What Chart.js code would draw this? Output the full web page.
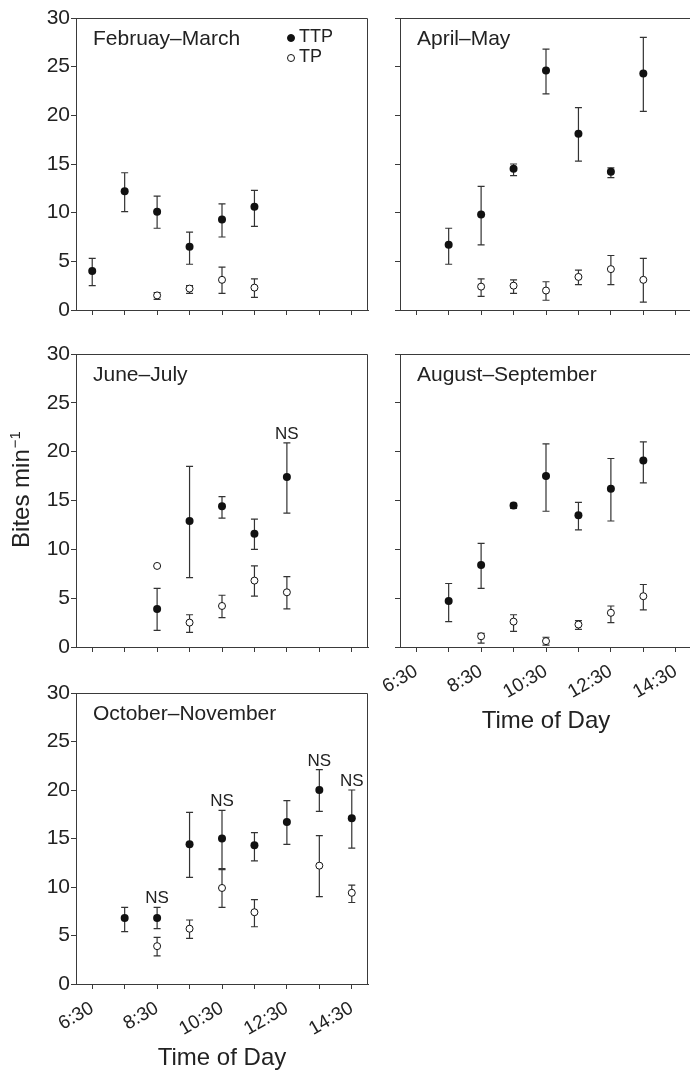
<!DOCTYPE html>
<html>
<head>
<meta charset="utf-8">
<script src="https://cdn.jsdelivr.net/npm/chart.js@4.4.0/dist/chart.umd.min.js"></script>
<style>
  html, body { margin: 0; padding: 0; background: #fff; }
  body { width: 690px; height: 1071px; position: relative; overflow: hidden; }
  canvas { position: absolute; }
</style>
</head>
<body>
<canvas id="febMar"></canvas>
<canvas id="aprMay"></canvas>
<canvas id="junJul"></canvas>
<canvas id="augSep"></canvas>
<canvas id="octNov"></canvas>
<script>
// time slots (x ticks) and which ones carry a label
const slots = ['6:30', '7:30', '8:30', '9:30', '10:30', '11:30', '12:30', '13:30', '14:30'];
const labelledSlots = ['6:30', '8:30', '10:30', '12:30', '14:30'];

// Februay-March
const febTTP   = [4.0, 12.2, 10.1, 6.5, 9.3, 10.6, null, null, null];
const febTTPLo = [2.5, 10.1, 8.4, 4.7, 7.5, 8.6, null, null, null];
const febTTPHi = [5.3, 14.1, 11.7, 8.0, 10.9, 12.3, null, null, null];
const febTP    = [null, null, 1.5, 2.2, 3.1, 2.3, null, null, null];
const febTPLo  = [null, null, 1.1, 1.7, 1.7, 1.3, null, null, null];
const febTPHi  = [null, null, 1.8, 2.5, 4.4, 3.2, null, null, null];

// April-May
const aprTTP   = [null, 6.7, 9.8, 14.5, 24.6, 18.1, 14.2, 24.3, null];
const aprTTPLo = [null, 4.7, 6.7, 13.8, 22.2, 15.3, 13.6, 20.4, null];
const aprTTPHi = [null, 8.4, 12.7, 15.0, 26.8, 20.8, 14.6, 28.0, null];
const aprTP    = [null, null, 2.4, 2.5, 2.0, 3.4, 4.2, 3.1, null];
const aprTPLo  = [null, null, 1.4, 1.7, 1.0, 2.6, 2.6, 0.8, null];
const aprTPHi  = [null, null, 3.2, 3.1, 2.9, 4.1, 5.6, 5.3, null];

// June-July
const junTTP   = [null, null, 3.9, 12.9, 14.4, 11.6, 17.4, null, null];
const junTTPLo = [null, null, 1.7, 7.1, 13.2, 10.0, 13.7, null, null];
const junTTPHi = [null, null, 6.0, 18.5, 15.4, 13.1, 20.9, null, null];
const junTP    = [null, null, 8.3, 2.5, 4.2, 6.8, 5.6, null, null];
const junTPLo  = [null, null, null, 1.5, 3.0, 5.2, 3.9, null, null];
const junTPHi  = [null, null, null, 3.3, 5.3, 8.3, 7.2, null, null];
const junNS    = ['12:30'];

// August-September
const augTTP   = [null, 4.7, 8.4, 14.5, 17.5, 13.5, 16.2, 19.1, null];
const augTTPLo = [null, 2.6, 6.0, 14.2, 13.9, 12.0, 12.9, 16.8, null];
const augTTPHi = [null, 6.5, 10.6, 14.7, 20.8, 14.8, 19.3, 21.0, null];
const augTP    = [null, null, 1.1, 2.6, 0.6, 2.3, 3.5, 5.2, null];
const augTPLo  = [null, null, 0.4, 1.6, 0.2, 1.8, 2.5, 3.8, null];
const augTPHi  = [null, null, 1.4, 3.3, 1.0, 2.7, 4.2, 6.4, null];

// October-November
const octTTP   = [null, 6.8, 6.8, 14.4, 15.0, 14.3, 16.7, 20.0, 17.1];
const octTTPLo = [null, 5.4, 5.7, 11.0, 11.9, 12.7, 14.4, 17.8, 14.0];
const octTTPHi = [null, 7.9, 7.9, 17.7, 17.9, 15.6, 18.9, 22.1, 20.0];
const octTP    = [null, null, 3.9, 5.7, 9.9, 7.4, null, 12.2, 9.4];
const octTPLo  = [null, null, 2.9, 4.7, 7.9, 5.9, null, 9.0, 8.4];
const octTPHi  = [null, null, 4.8, 6.6, 11.8, 8.7, null, 15.3, 10.2];
const octNS    = ['8:30', '10:30', '13:30', '14:30'];

const FONT = "'Liberation Sans', Arial, Helvetica, sans-serif";
const axisColor = '#3a3a3a';
const textColor = '#222';

function toHour(t) {
  const [h, m] = t.split(':').map(Number);
  return h + m / 60;
}
function fromHour(v) {
  const h = Math.floor(v);
  const m = Math.round((v - h) * 60);
  return h + ':' + String(m).padStart(2, '0');
}
function points(vals, lo, hi) {
  return slots.map((t, i) => ({ x: toHour(t), y: vals[i], lo: lo[i], hi: hi[i] }))
    .filter(p => p.y !== null);
}

// error bars, frame, panel title, legend, NS marks, shared y title
const panelDecor = {
  id: 'panelDecor',
  beforeDatasetsDraw(chart) {
    const ctx = chart.ctx;
    const xs = chart.scales.x, ys = chart.scales.y;
    ctx.save();
    ctx.strokeStyle = '#333';
    ctx.lineWidth = 1.2;
    chart.data.datasets.forEach(ds => {
      ds.data.forEach(p => {
        if (p.lo == null || p.hi == null) return;
        const x = xs.getPixelForValue(p.x);
        const y1 = ys.getPixelForValue(p.lo);
        const y2 = ys.getPixelForValue(p.hi);
        ctx.beginPath();
        ctx.moveTo(x, y1); ctx.lineTo(x, y2);
        ctx.moveTo(x - 3.5, y1); ctx.lineTo(x + 3.5, y1);
        ctx.moveTo(x - 3.5, y2); ctx.lineTo(x + 3.5, y2);
        ctx.stroke();
      });
    });
    ctx.restore();
  },
  afterDraw(chart, args, opts) {
    const ctx = chart.ctx;
    const a = chart.chartArea;
    const xs = chart.scales.x, ys = chart.scales.y;
    ctx.save();
    // top and right frame lines
    ctx.strokeStyle = axisColor;
    ctx.lineWidth = 1;
    ctx.beginPath();
    ctx.moveTo(a.left, a.top + 0.5);
    ctx.lineTo(a.right - 0.5, a.top + 0.5);
    ctx.lineTo(a.right - 0.5, a.bottom);
    ctx.stroke();

    ctx.fillStyle = textColor;
    ctx.font = '21px ' + FONT;
    ctx.textAlign = 'left';
    ctx.textBaseline = 'alphabetic';
    ctx.fillText(opts.title, a.left + 17, a.top + 27);

    if (opts.legend) {
      const lx = a.left + 215;
      [[a.top + 20, 'TTP', '#111'], [a.top + 40, 'TP', '#fff']].forEach(([ly, txt, fill]) => {
        ctx.beginPath();
        ctx.arc(lx, ly, 3.5, 0, Math.PI * 2);
        ctx.fillStyle = fill;
        ctx.fill();
        ctx.strokeStyle = '#111';
        ctx.lineWidth = 1;
        ctx.stroke();
        ctx.fillStyle = textColor;
        ctx.font = '18px ' + FONT;
        ctx.textBaseline = 'middle';
        ctx.fillText(txt, lx + 8, ly - 1);
      });
    }

    if (opts.ns) {
      const ttp = chart.data.datasets[0].data;
      ctx.font = '17px ' + FONT;
      ctx.textAlign = 'center';
      ctx.textBaseline = 'alphabetic';
      ctx.fillStyle = textColor;
      opts.ns.forEach(t => {
        const p = ttp.find(d => d.x === toHour(t));
        if (!p) return;
        ctx.fillText('NS', xs.getPixelForValue(p.x), ys.getPixelForValue(p.hi) - 4);
      });
    }

    if (opts.yTitle) {
      // "Bites min-1" with a raised exponent, centred a little above this panel's middle
      ctx.translate(29, (a.top + a.bottom) / 2 - 11);
      ctx.rotate(-Math.PI / 2);
      ctx.fillStyle = textColor;
      ctx.textBaseline = 'alphabetic';
      ctx.textAlign = 'left';
      ctx.font = '24px ' + FONT;
      const main = 'Bites min';
      const w1 = ctx.measureText(main).width;
      ctx.font = '15px ' + FONT;
      const w2 = ctx.measureText('\u22121').width;
      const x0 = -(w1 + w2 + 1) / 2;
      ctx.font = '24px ' + FONT;
      ctx.fillText(main, x0, 0);
      ctx.font = '15px ' + FONT;
      ctx.fillText('\u22121', x0 + w1 + 1, -9);
    }
    ctx.restore();
  }
};

function makePanel(id, cfg) {
  const bottomSpace = cfg.xLabels ? 95 : 16;
  const canvas = document.getElementById(id);
  canvas.width = 374;
  canvas.height = 14 + cfg.h + bottomSpace;
  canvas.style.left = (cfg.left - 76) + 'px';
  canvas.style.top = (cfg.top - 14) + 'px';

  return new Chart(canvas.getContext('2d'), {
    type: 'scatter',
    data: {
      datasets: [
        {
          label: 'TTP',
          data: points(cfg.ttp, cfg.ttpLo, cfg.ttpHi),
          pointRadius: 4,
          pointBackgroundColor: '#111',
          pointBorderColor: '#111',
          pointBorderWidth: 0
        },
        {
          label: 'TP',
          data: points(cfg.tp, cfg.tpLo, cfg.tpHi),
          pointRadius: 3.5,
          pointBackgroundColor: '#fff',
          pointBorderColor: '#111',
          pointBorderWidth: 1
        }
      ]
    },
    options: {
      responsive: false,
      animation: false,
      events: [],
      layout: { padding: { top: 14, right: 6, bottom: 0, left: 0 } },
      plugins: {
        legend: { display: false },
        tooltip: { enabled: false },
        panelDecor: { title: cfg.title, legend: cfg.legend, ns: cfg.ns, yTitle: cfg.yTitle }
      },
      scales: {
        x: {
          type: 'linear',
          min: 6,
          max: 15,
          afterBuildTicks: s => { s.ticks = slots.map(t => ({ value: toHour(t) })); },
          afterFit: s => { s.height = bottomSpace; },
          grid: { drawOnChartArea: false, drawTicks: true, tickLength: 5, color: axisColor },
          border: { color: axisColor, width: 1 },
          ticks: {
            autoSkip: false,
            minRotation: 30,
            maxRotation: 30,
            padding: 8,
            color: textColor,
            font: { family: FONT, size: 19 },
            callback: v => (cfg.xLabels && labelledSlots.includes(fromHour(v))) ? fromHour(v) : ''
          },
          title: {
            display: !!cfg.xLabels,
            text: 'Time of Day',
            color: textColor,
            font: { family: FONT, size: 24 },
            padding: { top: 0, bottom: 6 }
          }
        },
        y: {
          min: 0,
          max: 30,
          afterFit: s => { s.width = 76; },
          grid: { drawOnChartArea: false, drawTicks: true, tickLength: 5, color: axisColor },
          border: { color: axisColor, width: 1 },
          ticks: {
            stepSize: 5,
            padding: 1,
            color: textColor,
            font: { family: FONT, size: 21 },
            callback: v => cfg.yLabels ? String(v) : ''
          }
        }
      }
    },
    plugins: [panelDecor]
  });
}

makePanel('febMar', { title: 'Februay–March', left: 76, top: 18, h: 292, yLabels: true, legend: true,
  ttp: febTTP, ttpLo: febTTPLo, ttpHi: febTTPHi, tp: febTP, tpLo: febTPLo, tpHi: febTPHi });
makePanel('aprMay', { title: 'April–May', left: 400, top: 18, h: 292,
  ttp: aprTTP, ttpLo: aprTTPLo, ttpHi: aprTTPHi, tp: aprTP, tpLo: aprTPLo, tpHi: aprTPHi });
makePanel('junJul', { title: 'June–July', left: 76, top: 354, h: 293, yLabels: true, yTitle: true, ns: junNS,
  ttp: junTTP, ttpLo: junTTPLo, ttpHi: junTTPHi, tp: junTP, tpLo: junTPLo, tpHi: junTPHi });
makePanel('augSep', { title: 'August–September', left: 400, top: 354, h: 293, xLabels: true,
  ttp: augTTP, ttpLo: augTTPLo, ttpHi: augTTPHi, tp: augTP, tpLo: augTPLo, tpHi: augTPHi });
makePanel('octNov', { title: 'October–November', left: 76, top: 693, h: 291, yLabels: true, xLabels: true, ns: octNS,
  ttp: octTTP, ttpLo: octTTPLo, ttpHi: octTTPHi, tp: octTP, tpLo: octTPLo, tpHi: octTPHi });
</script>
</body>
</html>
